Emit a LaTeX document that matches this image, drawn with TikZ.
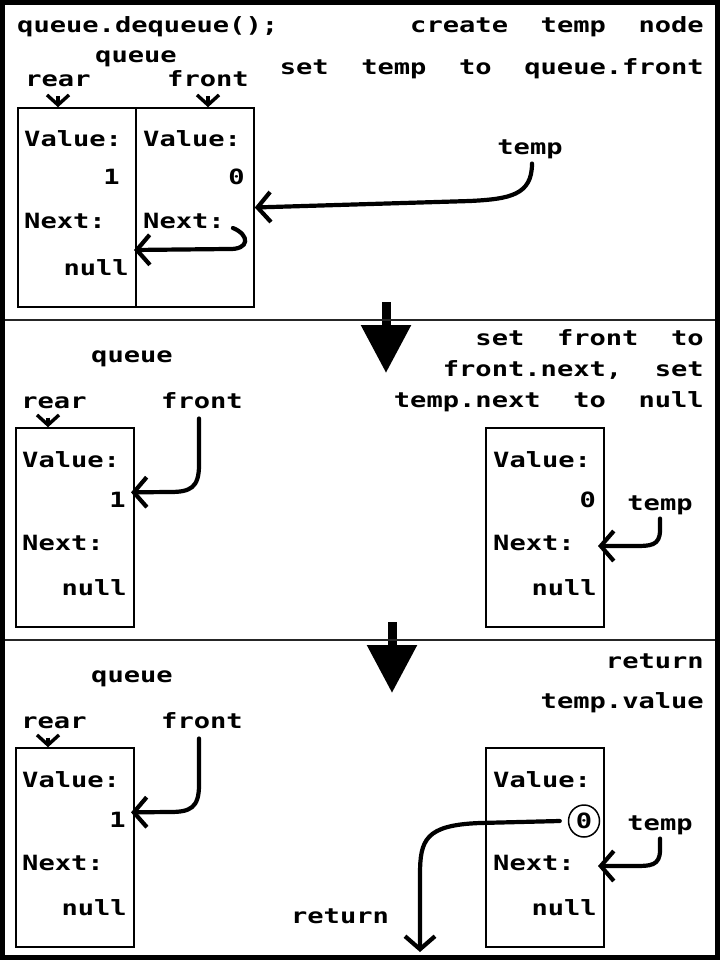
\documentclass[tikz,border=0pt]{standalone}
\usepackage{fontspec}
\newfontfamily\pixfont{DejaVu Sans Mono}[FakeStretch=1.29]
\usetikzlibrary{arrows.meta, shapes.geometric}
\tikzset{
    % Define style for texts
    txt/.style={
           inner sep=0pt,
           font=\pixfont\bfseries\fontsize{21pt}{21pt}\selectfont},
    % Define style for list nodes
    cellbox/.style={
           draw, line width=1.5pt,
           minimum width=118pt,
           minimum height=199pt,
           inner sep=0pt},
    % Define pointer styles
    ptr/.style={
           line width=4.2pt,
           line cap=round,
           -{Straight Barb[length=13pt,width=30pt,line width=4.2pt]}},
    sptr/.style={
           line width=3.4pt,
           -{Straight Barb[length=10pt,width=22pt,line width=3.4pt]}},
    % Define arrow between panels
    steparrow/.style={
           line width=9pt,
           -{Triangle[length=48pt,width=48pt]}}
}

\begin{document}
\begin{tikzpicture}[x=1pt, y=-1pt]
	\useasboundingbox (0,0) rectangle (720,960);
	%
	% panel 1
	%
	\node[txt, anchor=base west] (cmd) at (17,33) {queue.dequeue();};
	\node[txt, anchor=base east] (hdrA1) at (704,33) {create~~temp~~node};
	\node[txt, anchor=base east] (hdrA2) at (704,75) {set~~temp~~to~~queue.front};
	\node[txt, anchor=base] (queA) at (136,63) {queue};
	\node[txt, anchor=base] (rearA) at (58,87) {rear};
	\node[txt, anchor=base] (frontA) at (208,87) {front};
	\node[cellbox] (boxLA) at (77,207.5) {};
	\node[cellbox] (boxRA) at (195,207.5) {};
	\node[txt, anchor=base west] (valLA) at (24,147) {Value:};
	\node[txt, anchor=base east] (numLA) at (120,185) {1};
	\node[txt, anchor=base west] (nxtLA) at (24,228) {Next:};
	\node[txt, anchor=base east] (nulLA) at (129,275) {null};
	\node[txt, anchor=base west] (valRA) at (143,147) {Value:};
	\node[txt, anchor=base east] (numRA) at (245,185) {0};
	\node[txt, anchor=base west] (nxtRA) at (143,228) {Next:};
	\node[txt, anchor=base] (tmpA) at (530,155) {temp};
	\coordinate (nendA) at (134,250);
	%
	\draw[sptr] ([yshift=-9pt]rearA.south) -- (rearA.south |- boxLA.north);
	\draw[sptr] ([yshift=-9pt]frontA.south) -- (frontA.south |- boxRA.north);
	\draw[ptr] ([xshift=8pt]nxtRA.base east) .. controls (250,235) and (250,250) .. (228,249) -- (nendA);
	\draw[ptr] ([xshift=2pt,yshift=-4pt]tmpA.south) .. controls (532,195) and (510,199) .. (470,201) -- (boxRA.east);
	%
	\draw[steparrow] (386,302) -- (386,373);
	\draw[line width=2pt, black!85] (0,320) -- (720,320);
	%
	% panel 2
	%
	\node[txt, anchor=base east] (hdrB1) at (704,345) {set~~front~~to};
	\node[txt, anchor=base east] (hdrB2) at (704,376) {front.next,~~set};
	\node[txt, anchor=base east] (hdrB3) at (704,407) {temp.next~~to~~null};
	\node[txt, anchor=base] (queB) at (132,362) {queue};
	\node[txt, anchor=base] (rearB) at (54,408) {rear};
	\node[txt, anchor=base] (frontB) at (202,408) {front};
	\node[cellbox] (boxLB) at (75,527.5) {};
	\node[cellbox] (boxRB) at (545,527.5) {};
	\node[txt, anchor=base west] (valLB) at (22,467) {Value:};
	\node[txt, anchor=base east] (numLB) at (126,507) {1};
	\node[txt, anchor=base west] (nxtLB) at (22,550) {Next:};
	\node[txt, anchor=base east] (nulLB) at (127,595) {null};
	\node[txt, anchor=base west] (valRB) at (493,467) {Value:};
	\node[txt, anchor=base east] (numRB) at (596,507) {0};
	\node[txt, anchor=base west] (nxtRB) at (493,550) {Next:};
	\node[txt, anchor=base east] (nulRB) at (597,595) {null};
	\node[txt, anchor=base] (tmpB) at (660,510) {temp};
	\coordinate (tendB) at (598,546);
	%
	\draw[sptr] ([xshift=-6pt,yshift=-9pt]rearB.south) -- ([xshift=-6pt]rearB.south |- boxLB.north);
	\draw[ptr] ([xshift=-3pt,yshift=-10pt]frontB.south) -- (199,465) .. controls (199,488) and (190,492) .. (170,492) -- ([xshift=5pt,yshift=7pt]numLB.east);
	\draw[ptr] ([yshift=-4pt]tmpB.south) -- (660,530) .. controls (660,546) and (650,546) .. (635,546) -- (tendB);
	%
	\draw[steparrow] (392,622) -- (392,693);
	\draw[line width=2pt, black!85] (0,640) -- (720,640);
	%
	% panel 3
	%
	\node[txt, anchor=base east] (hdrC1) at (704,668) {return};
	\node[txt, anchor=base east] (hdrC2) at (704,708) {temp.value};
	\node[txt, anchor=base] (queC) at (132,682) {queue};
	\node[txt, anchor=base] (rearC) at (54,728) {rear};
	\node[txt, anchor=base] (frontC) at (202,728) {front};
	\node[cellbox] (boxLC) at (75,847.5) {};
	\node[cellbox] (boxRC) at (545,847.5) {};
	\node[txt, anchor=base west] (valLC) at (22,787) {Value:};
	\node[txt, anchor=base east] (numLC) at (126,827) {1};
	\node[txt, anchor=base west] (nxtLC) at (22,870) {Next:};
	\node[txt, anchor=base east] (nulLC) at (127,915) {null};
	\node[txt, anchor=base west] (valRC) at (493,787) {Value:};
	\node[txt, draw, ellipse, line width=1.5pt, minimum width=31pt, minimum height=32pt] (numRC) at (584,821) {0};
	\node[txt, anchor=base west] (nxtRC) at (493,870) {Next:};
	\node[txt, anchor=base east] (nulRC) at (597,915) {null};
	\node[txt, anchor=base] (tmpC) at (660,830) {temp};
	\node[txt, anchor=base] (retC) at (340,923) {return};
	\coordinate (tendC) at (598,866);
	\coordinate (rendC) at (420,952);
	%
	\draw[sptr] ([xshift=-6pt,yshift=-9pt]rearC.south) -- ([xshift=-6pt]rearC.south |- boxLC.north);
	\draw[ptr] ([xshift=-3pt,yshift=-10pt]frontC.south) -- (199,785) .. controls (199,808) and (190,812) .. (170,812) -- ([xshift=5pt,yshift=7pt]numLC.east);
	\draw[ptr] ([yshift=-4pt]tmpC.south) -- (660,850) .. controls (660,866) and (650,866) .. (635,866) -- (tendC);
	\draw[ptr] ([xshift=-8pt]numRC.west) -- (480,823) .. controls (425,825) and (420,840) .. (420,875) -- (rendC);
	%
	% frame
	\draw[line width=5pt] (2.5,2.5) rectangle (717.5,957.5);
\end{tikzpicture}
\end{document}
